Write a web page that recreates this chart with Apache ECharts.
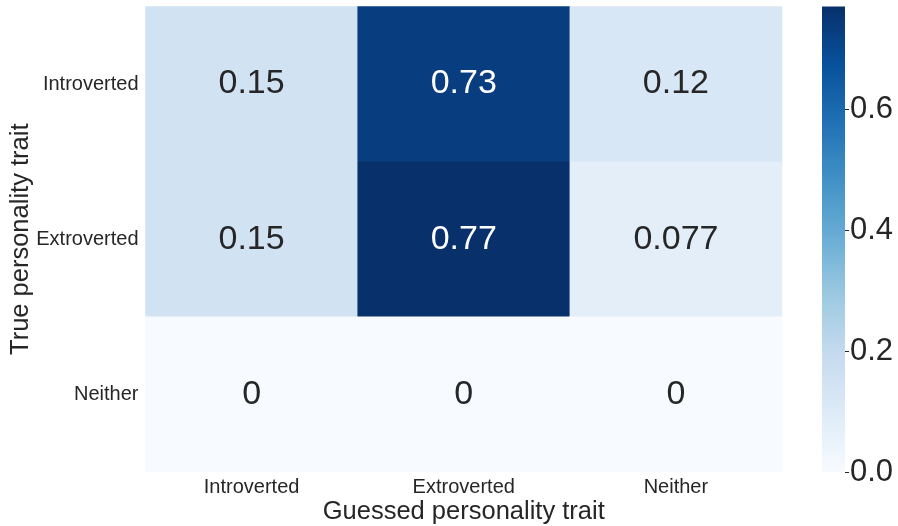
<!DOCTYPE html>
<html>
<head>
<meta charset="utf-8">
<script src="https://cdn.jsdelivr.net/npm/echarts@6/dist/echarts.min.js"></script>
<style>
  html, body { margin: 0; padding: 0; background: #ffffff; }
  #chart { width: 898px; height: 526px; }
</style>
</head>
<body>
<div id="chart"></div>
<script>
// Confusion matrix: rows = true trait, columns = guessed trait
const guessedTraits = ['Introverted', 'Extroverted', 'Neither'];
const trueTraits = ['Introverted', 'Extroverted', 'Neither'];
const rowIntroverted = [0.15, 0.73, 0.12];
const rowExtroverted = [0.15, 0.77, 0.077];
const rowNeither = [0, 0, 0];
const colorbarTicks = [0, 0.2, 0.4, 0.6];
const colorMin = 0;
const colorMax = 0.77;

// matplotlib "Blues" stops
const blues = ['#f7fbff', '#deebf7', '#c6dbef', '#9ecae1', '#6baed6',
               '#4292c6', '#2171b5', '#08519c', '#08306b'];

const FONT = '"Liberation Sans", Arial, sans-serif';
const TEXT = '#262626';

const rows = [rowIntroverted, rowExtroverted, rowNeither];
const cells = [];
rows.forEach((row, r) => {
  row.forEach((v, c) => {
    cells.push({
      value: [c, r, v],
      label: { color: (v - colorMin) / (colorMax - colorMin) > 0.5 ? '#ffffff' : TEXT }
    });
  });
});

const chart = echarts.init(document.getElementById('chart'), null, { renderer: 'canvas' });

chart.setOption({
  backgroundColor: '#ffffff',
  animation: false,
  grid: [
    { left: 145.5, right: 116, top: 6.5, bottom: 54, containLabel: false, outerBoundsMode: 'none' },
    { left: 822, width: 23, top: 6.5, bottom: 54, containLabel: false, outerBoundsMode: 'none' }
  ],
  xAxis: [
    {
      type: 'category', gridIndex: 0, data: guessedTraits,
      axisLine: { show: false }, axisTick: { show: false }, splitLine: { show: false },
      axisLabel: { fontFamily: FONT, fontSize: 20, color: TEXT, margin: 5 },
      name: 'Guessed personality trait', nameLocation: 'middle', nameGap: 27,
      nameMoveOverlap: false,
      nameTextStyle: { fontFamily: FONT, fontSize: 25.5, color: TEXT, verticalAlign: 'top' }
    },
    {
      type: 'category', gridIndex: 1, data: [''],
      show: false
    }
  ],
  yAxis: [
    {
      type: 'category', gridIndex: 0, data: trueTraits, inverse: true,
      axisLine: { show: false }, axisTick: { show: false }, splitLine: { show: false },
      axisLabel: { fontFamily: FONT, fontSize: 20, color: TEXT, margin: 7 },
      name: 'True personality trait', nameLocation: 'middle', nameGap: 112,
      nameMoveOverlap: false,
      nameRotate: 90,
      nameTextStyle: { fontFamily: FONT, fontSize: 25.5, color: TEXT }
    },
    {
      type: 'value', gridIndex: 1, position: 'right',
      min: colorMin, max: colorMax, interval: 0.2,
      axisLine: { show: false },
      splitLine: { show: false },
      axisTick: { show: true, length: 4, customValues: colorbarTicks,
                  lineStyle: { color: TEXT, width: 1 } },
      axisLabel: { fontFamily: FONT, fontSize: 31, color: TEXT, margin: 5,
                   customValues: colorbarTicks,
                   formatter: v => v.toFixed(1) }
    }
  ],
  visualMap: {
    show: false, type: 'continuous', seriesIndex: 0, dimension: 2,
    min: colorMin, max: colorMax,
    inRange: { color: blues }
  },
  series: [
    {
      type: 'heatmap', xAxisIndex: 0, yAxisIndex: 0,
      data: cells,
      label: { show: true, fontFamily: FONT, fontSize: 34,
               formatter: p => String(p.value[2]) },
      itemStyle: { borderWidth: 0 },
      emphasis: { disabled: true }
    },
    {
      type: 'bar', xAxisIndex: 1, yAxisIndex: 1,
      data: [colorMax], barWidth: '100%', silent: true,
      itemStyle: {
        color: new echarts.graphic.LinearGradient(0, 1, 0, 0,
          blues.map((c, i) => ({ offset: i / (blues.length - 1), color: c })))
      }
    }
  ]
});
</script>
</body>
</html>
